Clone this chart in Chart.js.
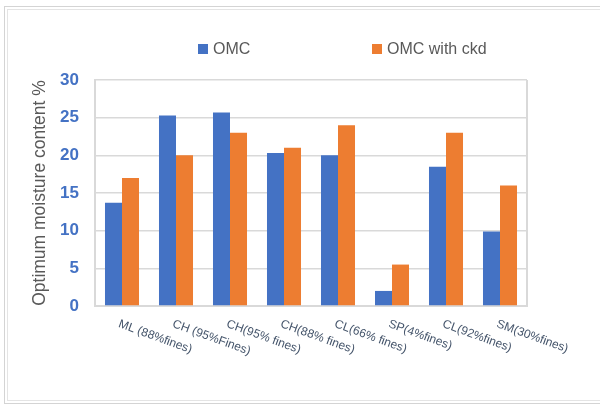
<!DOCTYPE html>
<html>
<head>
<meta charset="utf-8">
<script src="https://cdn.jsdelivr.net/npm/chart.js@4.4.1/dist/chart.umd.min.js"></script>
<style>
  html, body { margin: 0; padding: 0; background: #ffffff; }
  #wrap { position: relative; width: 600px; height: 405px; overflow: hidden; }
  .frame { position: absolute; box-sizing: border-box; }
  #outer { left: 4px; top: 6px; width: 700px; height: 398px; border: 1px solid #d4d4d4; }
  #inner { left: 7px; top: 9px; width: 700px; height: 392px; border: 1px solid #e4e4e4; }
  canvas { position: absolute; left: 0; top: 0; }
</style>
</head>
<body>
<div id="wrap">
  <div class="frame" id="outer"></div>
  <div class="frame" id="inner"></div>
  <canvas id="c" width="600" height="405"></canvas>
</div>
<script>
// Soil samples and their optimum moisture content (%)
const categories = [
  'ML (88%fines)', 'CH (95%Fines)', 'CH(95% fines)', 'CH(88% fines)',
  'CL(66% fines)', 'SP(4%fines)', 'CL(92%fines)', 'SM(30%fines)'
];
const omc        = [13.7, 25.3, 25.7, 20.3, 20.0, 2.0, 18.5, 9.9];
const omcWithCkd = [17.0, 20.0, 23.0, 21.0, 24.0, 5.5, 23.0, 16.0];
const seriesNames = ['OMC', 'OMC with ckd'];
const yTicks = [0, 5, 10, 15, 20, 25, 30];

const BLUE = '#4472C4';
const ORANGE = '#ED7D31';
const GRID = '#d9d9d9';

// Legend drawn as two widely spaced items above the plot
const legendPlugin = {
  id: 'spacedLegend',
  afterDraw(chart) {
    const ctx = chart.ctx;
    const xs = [198, 372];
    ctx.save();
    ctx.font = '16px "Liberation Sans", Arial, sans-serif';
    ctx.textBaseline = 'middle';
    ctx.textAlign = 'left';
    chart.data.datasets.forEach((ds, i) => {
      ctx.fillStyle = ds.backgroundColor;
      ctx.fillRect(xs[i], 44, 10, 10);
      ctx.fillStyle = '#595959';
      ctx.fillText(ds.label, xs[i] + 15, 49.5);
    });
    ctx.restore();
  }
};

// Category labels tilted downward to the right, starting at each tick
const slantLabels = {
  id: 'slantLabels',
  afterDraw(chart) {
    const ctx = chart.ctx;
    const xs = chart.scales.x;
    ctx.save();
    ctx.font = '12px "Liberation Sans", Arial, sans-serif';
    ctx.fillStyle = '#44546A';
    ctx.textAlign = 'left';
    ctx.textBaseline = 'top';
    chart.data.labels.forEach((lab, i) => {
      const x = xs.getPixelForTick(i);
      ctx.save();
      ctx.translate(x - 1, xs.top + 12);
      ctx.rotate(20 * Math.PI / 180);
      ctx.fillText(lab, 0, 0);
      ctx.restore();
    });
    ctx.restore();
  }
};

new Chart(document.getElementById('c'), {
  type: 'bar',
  data: {
    labels: categories,
    datasets: [
      { label: seriesNames[0], data: omc, backgroundColor: BLUE },
      { label: seriesNames[1], data: omcWithCkd, backgroundColor: ORANGE }
    ]
  },
  options: {
    responsive: false,
    animation: false,
    devicePixelRatio: 1,
    layout: { padding: { left: 30, right: 73, top: 80, bottom: 0 } },
    datasets: { bar: { categoryPercentage: 0.63, barPercentage: 1.0 } },
    plugins: { legend: { display: false }, tooltip: { enabled: false } },
    scales: {
      x: {
        grid: { display: false, drawTicks: false },
        border: { display: true, color: GRID, width: 2 },
        ticks: { display: false },
        afterFit(s) { s.height = 99; }
      },
      y: {
        min: 0, max: 30,
        afterBuildTicks(s) { s.ticks = yTicks.map(v => ({ value: v })); },
        grid: { color: GRID, lineWidth: 1.5, drawTicks: false },
        border: { display: true, color: GRID, width: 2 },
        ticks: {
          color: BLUE,
          padding: 16,
          font: { family: '"Liberation Sans", Arial, sans-serif', size: 17, weight: 'bold' }
        },
        title: {
          display: true,
          text: 'Optimum moisture content %',
          color: '#595959',
          font: { family: '"Liberation Sans", Arial, sans-serif', size: 17.5 },
          padding: { top: 0, bottom: 6 }
        },
        afterFit(s) { s.width = 65; }
      }
    }
  },
  plugins: [legendPlugin, slantLabels, {
    id: 'rightEdge',
    afterDraw(chart) {
      const a = chart.chartArea, ctx = chart.ctx;
      ctx.save();
      ctx.strokeStyle = GRID;
      ctx.lineWidth = 2;
      ctx.beginPath();
      ctx.moveTo(a.right, a.top);
      ctx.lineTo(a.right, a.bottom);
      ctx.stroke();
      ctx.restore();
    }
  }]
});
</script>
</body>
</html>
